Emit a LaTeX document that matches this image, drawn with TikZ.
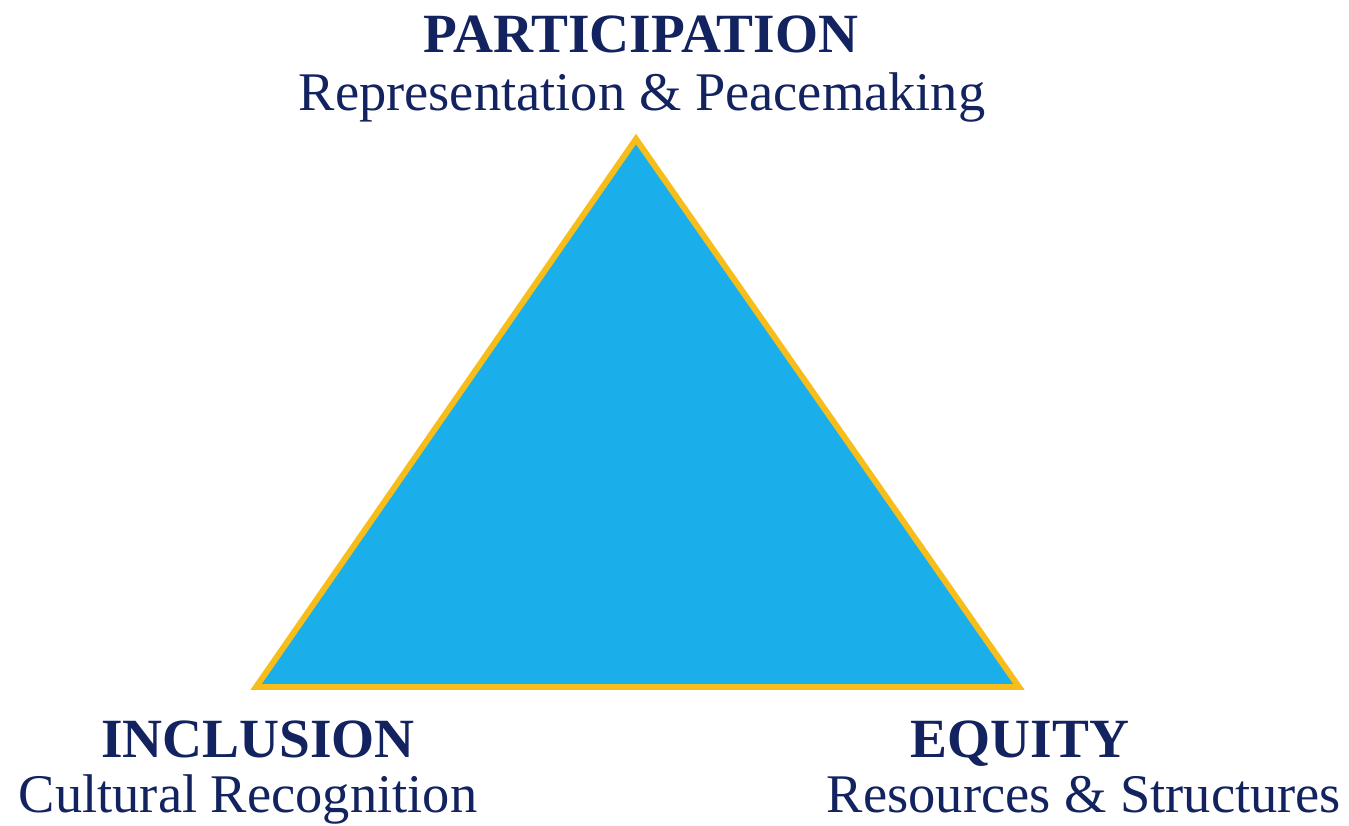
\documentclass[tikz,border=0pt]{standalone}
\usepackage{fontspec}
\setmainfont{Liberation Serif}
\usetikzlibrary{positioning}
\definecolor{navy}{HTML}{13235F}
\definecolor{skyfill}{HTML}{1AAEEB}
\definecolor{goldline}{HTML}{F7BE1B}

\begin{document}
\begin{tikzpicture}[
    x=0.02cm, y=-0.02cm,
    corner/.style={
      anchor=base,
      inner sep=0pt,
      text=navy,
      font=\fontsize{31.5}{37}\selectfont\bfseries
    },
    aspect/.style={
      anchor=base,
      inner sep=0pt,
      text=navy,
      font=\fontsize{31}{37}\selectfont
    }]

    % Page frame.
    \useasboundingbox (0,0) rectangle (1349,825);

    % The three corners of the triangle.
    \coordinate (apex) at (636,139);
    \coordinate (left) at (256,687);
    \coordinate (right) at (1019,687);

    \filldraw[fill=skyfill,draw=goldline,line width=3.4pt,line join=miter]
      (apex) -- (left) -- (right) -- cycle;

    % Labels at each corner.
    \node[corner] (part) at (641,52) {PARTICIPATION};
    \node[aspect] (repr) at (642,110) {Representation \& Peacemaking};

    \node[corner] (incl) at (258,757) {INCLUSION};
    \node[aspect] (cult) at (248,812) {Cultural Recognition};

    \node[corner] (equi) at (1020,757) {EQUITY};
    \node[aspect] (reso) at (1084,812) {Resources \& Structures};
\end{tikzpicture}
\end{document}
